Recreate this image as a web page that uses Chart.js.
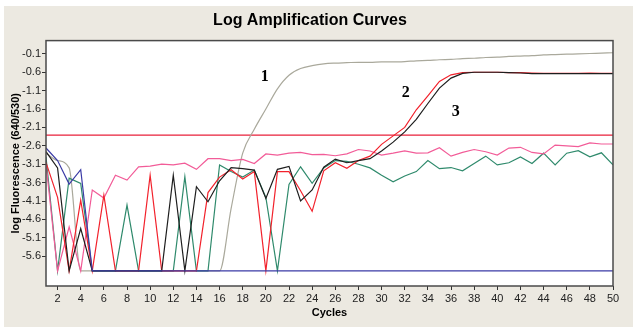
<!DOCTYPE html>
<html>
<head>
<meta charset="utf-8">
<script src="https://cdn.jsdelivr.net/npm/chart.js@4.4.0/dist/chart.umd.min.js"></script>
<style>
  html, body { margin: 0; padding: 0; background: #fff; }
  #wrap { width: 637px; height: 333px; }
</style>
</head>
<body>
<div id="wrap"><canvas id="ampChart" width="637" height="333"></canvas></div>
<script>
// cycle numbers (x) and log fluorescence readings (y) per sample
const cycles = [1, 2, 3, 4, 5, 6, 7, 8, 9, 10, 11, 12, 13, 14, 15, 16, 17, 18, 19, 20,
                21, 22, 23, 24, 25, 26, 27, 28, 29, 30, 31, 32, 33, 34, 35, 36, 37, 38, 39, 40,
                41, 42, 43, 44, 45, 46, 47, 48, 49, 50];

const sample1 = [-2.8, -3.0, -3.2, -6.0, -6.0, -6.0, -6.0, -6.0, -6.0, -6.0,
                 -6.0, -6.0, -6.0, -6.0, -6.0, -6.0, -4.3, -2.8, -2.15, -1.6,
                 -1.05, -0.68, -0.5, -0.42, -0.37, -0.35, -0.34, -0.33, -0.33, -0.32,
                 -0.32, -0.31, -0.29, -0.28, -0.26, -0.25, -0.23, -0.22, -0.2, -0.19,
                 -0.17, -0.16, -0.15, -0.13, -0.12, -0.11, -0.1, -0.09, -0.08, -0.07];

const sample2 = [-3.05, -4.0, -6.0, -4.08, -6.0, -3.94, -6.0, -6.0, -6.0, -3.4,
                 -6.0, -6.0, -6.0, -6.0, -3.87, -3.45, -3.25, -3.5, -3.3, -6.0,
                 -3.3, -3.3, -3.82, -4.38, -3.28, -3.06, -3.21, -3.0, -2.88, -2.56,
                 -2.33, -2.1, -1.62, -1.24, -0.85, -0.67, -0.61, -0.6, -0.6, -0.6,
                 -0.61, -0.61, -0.62, -0.63, -0.63, -0.63, -0.63, -0.62, -0.63, -0.63];

const sample3 = [-2.76, -3.2, -6.0, -4.85, -6.0, -6.0, -6.0, -6.0, -6.0, -6.0,
                 -6.0, -3.4, -6.0, -3.71, -4.12, -3.55, -3.19, -3.22, -3.26, -4.03,
                 -3.24, -3.16, -4.1, -3.8, -3.18, -2.96, -3.06, -3.0, -2.95, -2.74,
                 -2.5, -2.22, -1.88, -1.45, -1.03, -0.76, -0.63, -0.6, -0.6, -0.6,
                 -0.61, -0.62, -0.64, -0.64, -0.64, -0.64, -0.64, -0.64, -0.64, -0.64];

const negTeal = [-2.9, -6.0, -3.48, -3.62, -6.0, -6.0, -6.0, -4.21, -6.0, -6.0,
                 -6.0, -6.0, -3.44, -6.0, -6.0, -3.12, -3.3, -3.45, -3.26, -4.0,
                 -6.0, -3.65, -3.17, -3.62, -3.2, -3.0, -3.02, -3.1, -3.2, -3.4,
                 -3.58, -3.42, -3.3, -3.0, -3.22, -3.19, -3.28, -3.08, -2.88, -3.12,
                 -3.06, -2.9, -3.08, -2.8, -3.12, -2.8, -2.73, -2.9, -2.79, -3.12];

const negPink = [-3.1, -6.0, -4.8, -6.0, -3.8, -4.02, -3.4, -3.53, -3.17, -3.15,
                 -3.1, -3.12, -3.07, -3.24, -2.95, -2.95, -3.0, -2.97, -3.08, -2.82,
                 -2.85, -2.8, -2.78, -2.84, -2.83, -2.87, -2.82, -2.7, -2.74, -2.85,
                 -2.8, -2.74, -2.8, -2.79, -2.65, -2.88, -2.78, -2.7, -2.76, -2.85,
                 -2.66, -2.64, -2.78, -2.82, -2.58, -2.6, -2.62, -2.52, -2.55, -2.55];

const negBlue = [-2.66, -3.0, -3.64, -3.25, -6.0, -6.0, -6.0, -6.0, -6.0, -6.0,
                 -6.0, -6.0, -6.0, -6.0, -6.0, -6.0, -6.0, -6.0, -6.0, -6.0,
                 -6.0, -6.0, -6.0, -6.0, -6.0, -6.0, -6.0, -6.0, -6.0, -6.0,
                 -6.0, -6.0, -6.0, -6.0, -6.0, -6.0, -6.0, -6.0, -6.0, -6.0,
                 -6.0, -6.0, -6.0, -6.0, -6.0, -6.0, -6.0, -6.0, -6.0, -6.0];

const threshold = -2.31;

const xTicks = [2, 4, 6, 8, 10, 12, 14, 16, 18, 20, 22, 24, 26, 28, 30, 32, 34, 36, 38, 40,
                42, 44, 46, 48, 50];
const yTicks = [-0.1, -0.6, -1.1, -1.6, -2.1, -2.6, -3.1, -3.6, -4.1, -4.6, -5.1, -5.6];

// curve numbers written on the plot
const curveNames = ['1', '2', '3'];
const curveNameAt = [[19.9, -0.73], [32.1, -1.16], [36.4, -1.68]];

function pts(values) {
    return values.map((v, i) => ({ x: cycles[i], y: v }));
}

function line(label, values, color, extra) {
    return Object.assign({
        label: label,
        data: pts(values),
        borderColor: color,
        borderWidth: 1.2,
        pointRadius: 0,
        tension: 0,
        fill: false
    }, extra || {});
}

// beige window, white plot area, frame and the curve numbers
const framePlugin = {
    id: 'framePlugin',
    beforeDraw(chart) {
        const { ctx, chartArea: a } = chart;
        ctx.save();
        ctx.fillStyle = '#ffffff';
        ctx.fillRect(0, 0, chart.width, chart.height);
        ctx.fillStyle = '#ece9e1';
        ctx.fillRect(4, 6, 629, 321);
        ctx.fillStyle = '#ffffff';
        ctx.fillRect(a.left, a.top, a.right - a.left, a.bottom - a.top);
        ctx.restore();
    },
    afterDatasetsDraw(chart) {
        const { ctx, chartArea: a, scales } = chart;
        ctx.save();
        ctx.strokeStyle = '#4a4a4a';
        ctx.lineWidth = 1.5;
        ctx.strokeRect(a.left, a.top, a.right - a.left, a.bottom - a.top);
        ctx.fillStyle = '#000';
        ctx.font = 'bold 16px "Liberation Serif", "Times New Roman", serif';
        ctx.textAlign = 'center';
        ctx.textBaseline = 'middle';
        curveNames.forEach((t, i) => {
            const [cx, cy] = curveNameAt[i];
            ctx.fillText(t, scales.x.getPixelForValue(cx), scales.y.getPixelForValue(cy));
        });
        ctx.restore();
    }
};

const ctx = document.getElementById('ampChart').getContext('2d');
const ampChart = new Chart(ctx, {
    type: 'line',
    data: {
        datasets: [
            line('Blue', negBlue, '#3b3ba6'),
            line('3', sample3, '#1e1e1e'),
            line('2', sample2, '#f2222c'),
            line('Pink', negPink, '#f25c98'),
            line('Teal', negTeal, '#2f8a6c'),
            line('1', sample1, '#aaa99c', { cubicInterpolationMode: 'monotone' }),
            line('Threshold', [threshold, threshold], '#e8203a', {
                data: [{ x: cycles[0], y: threshold }, { x: cycles[cycles.length - 1], y: threshold }]
            })
        ]
    },
    options: {
        responsive: false,
        animation: false,
        layout: { padding: { left: 7, right: 24, top: 0, bottom: 6 } },
        plugins: {
            legend: { display: false },
            tooltip: { enabled: false },
            title: {
                display: true,
                text: 'Log Amplification Curves',
                color: '#000',
                font: { family: '"Liberation Sans Narrow", "Liberation Sans", Arial, sans-serif', size: 16, weight: 'bold', lineHeight: 1.1 },
                padding: { top: 12, bottom: 11 }
            }
        },
        scales: {
            x: {
                type: 'linear',
                min: 1,
                max: 50,
                afterBuildTicks: s => { s.ticks = xTicks.map(v => ({ value: v })); },
                afterFit: s => { s.height = 41; },
                border: { display: false },
                grid: { drawOnChartArea: false, drawTicks: true, tickLength: 4, color: '#333' },
                ticks: {
                    color: '#222',
                    padding: 2,
                    maxRotation: 0,
                    autoSkip: false,
                    font: { family: '"Liberation Sans", Arial, sans-serif', size: 11 }
                },
                title: {
                    display: true,
                    text: 'Cycles',
                    color: '#000',
                    font: { family: '"Liberation Sans", Arial, sans-serif', size: 11, weight: 'bold' },
                    padding: { top: 0, bottom: 7 }
                }
            },
            y: {
                type: 'linear',
                min: -6.41,
                max: 0.26,
                afterBuildTicks: s => { s.ticks = yTicks.map(v => ({ value: v })); },
                afterFit: s => { s.width = 39; },
                border: { display: false },
                grid: { drawOnChartArea: false, drawTicks: true, tickLength: 4, color: '#333' },
                ticks: {
                    color: '#222',
                    padding: 1,
                    autoSkip: false,
                    callback: v => v.toFixed(1),
                    font: { family: '"Liberation Sans", Arial, sans-serif', size: 11 }
                },
                title: {
                    display: true,
                    text: 'log Fluorescence (640/530)',
                    color: '#000',
                    font: { family: '"Liberation Sans", Arial, sans-serif', size: 11, weight: 'bold' },
                    padding: { top: 2, bottom: 0 }
                }
            }
        }
    },
    plugins: [framePlugin]
});
</script>
</body>
</html>
